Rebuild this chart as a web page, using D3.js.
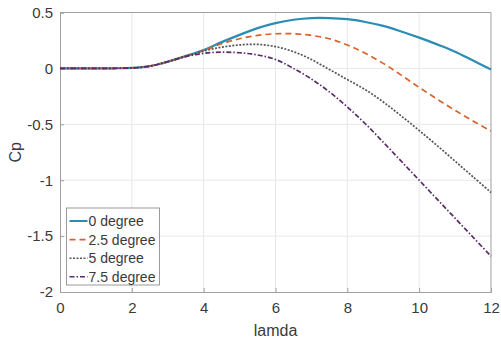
<!DOCTYPE html>
<html>
<head>
<meta charset="utf-8">
<script src="https://cdn.jsdelivr.net/npm/d3@7"></script>
<style>
  body { margin: 0; background: #fff; }
  svg { display: block; font-family: "Liberation Sans", Arial, sans-serif; }
</style>
</head>
<body>
<script>
const lamda = [0, 0.5, 1, 1.5, 2, 2.5, 3, 3.5, 4, 4.5, 5, 5.5, 6, 6.5, 7, 7.5, 8, 8.5, 9, 9.5, 10, 10.5, 11, 11.5, 12];

const cp0 = [0, 0, 0, 0.001, 0.004, 0.02, 0.06, 0.11, 0.165, 0.235, 0.30, 0.36, 0.405, 0.435, 0.45, 0.45, 0.44, 0.415, 0.38, 0.33, 0.275, 0.215, 0.15, 0.07, -0.01];
const cp25 = [0, 0, 0, 0.001, 0.004, 0.02, 0.06, 0.11, 0.16, 0.22, 0.265, 0.295, 0.31, 0.31, 0.295, 0.265, 0.21, 0.135, 0.045, -0.06, -0.17, -0.275, -0.375, -0.47, -0.56];
const cp5 = [0, 0, 0, 0.001, 0.004, 0.02, 0.06, 0.11, 0.155, 0.19, 0.21, 0.215, 0.195, 0.15, 0.08, -0.01, -0.1, -0.19, -0.30, -0.425, -0.555, -0.69, -0.83, -0.97, -1.11];
const cp75 = [0, 0, 0, 0.001, 0.004, 0.02, 0.06, 0.105, 0.135, 0.145, 0.14, 0.12, 0.08, 0.0, -0.095, -0.21, -0.345, -0.495, -0.66, -0.83, -1.0, -1.17, -1.34, -1.51, -1.68];

const seriesNames = ["0 degree", "2.5 degree", "5 degree", "7.5 degree"];
const seriesColors = ["#2b8cb4", "#d9622b", "#555555", "#5a2a6a"];
const seriesDash = [null, "6,4", "2,1.5", "5,2,1.5,2"];
const xTicks = [0, 2, 4, 6, 8, 10, 12];
const yTicks = [-2, -1.5, -1, -0.5, 0, 0.5];

const W = 501, H = 342;
const m = { left: 60, right: 10, top: 12.5, bottom: 50 };

const svg = d3.select("body").append("svg")
  .attr("width", W)
  .attr("height", H);

const x = d3.scaleLinear().domain([0, 12]).range([m.left, W - m.right]);
const y = d3.scaleLinear().domain([-2, 0.5]).range([H - m.bottom, m.top]);

// grid
svg.append("g")
  .selectAll("line.vx")
  .data(xTicks.slice(1, -1))
  .enter().append("line")
  .attr("x1", d => x(d)).attr("x2", d => x(d))
  .attr("y1", y(-2)).attr("y2", y(0.5))
  .attr("stroke", "#e8e8e8");
svg.append("g")
  .selectAll("line.hy")
  .data(yTicks.slice(1, -1))
  .enter().append("line")
  .attr("x1", x(0)).attr("x2", x(12))
  .attr("y1", d => y(d)).attr("y2", d => y(d))
  .attr("stroke", "#e8e8e8");

// axes (ticks point inward, matlab style)
const xAxis = svg.append("g")
  .attr("transform", `translate(0,${y(-2)})`)
  .call(d3.axisBottom(x).tickValues(xTicks).tickSize(-4).tickPadding(10).tickFormat(d3.format("")));
const yAxis = svg.append("g")
  .attr("transform", `translate(${x(0)},0)`)
  .call(d3.axisLeft(y).tickValues(yTicks).tickSize(-4).tickPadding(7).tickFormat(d => d));

[xAxis, yAxis].forEach(a => {
  a.select(".domain").attr("stroke", "#a0a0a0");
  a.selectAll(".tick line").attr("stroke", "#a0a0a0");
  a.selectAll(".tick text")
    .attr("fill", "#3a3a3a")
    .style("font-size", "15px")
    .style("font-family", "Liberation Sans, Arial, sans-serif");
});

// box top and right
svg.append("line")
  .attr("x1", x(0)).attr("x2", x(12))
  .attr("y1", y(0.5)).attr("y2", y(0.5))
  .attr("stroke", "#a0a0a0");
svg.append("line")
  .attr("x1", x(12)).attr("x2", x(12))
  .attr("y1", y(0.5)).attr("y2", y(-2))
  .attr("stroke", "#a0a0a0");

// curves
const allSeries = [cp0, cp25, cp5, cp75];
const line = d3.line()
  .x((d, i) => x(lamda[i]))
  .y(d => y(d))
  .curve(d3.curveCatmullRom);

allSeries.forEach((s, i) => {
  svg.append("path")
    .datum(s)
    .attr("d", line)
    .attr("fill", "none")
    .attr("stroke", seriesColors[i])
    .attr("stroke-width", i === 0 ? 2.2 : 1.7)
    .attr("stroke-dasharray", seriesDash[i]);
});

// labels
svg.append("text")
  .attr("x", (x(0) + x(12)) / 2)
  .attr("y", 336)
  .attr("text-anchor", "middle")
  .attr("fill", "#3a3a3a")
  .style("font-size", "16px")
  .text("lamda");

svg.append("text")
  .attr("transform", `translate(21,${(y(0.5) + y(-2)) / 2}) rotate(-90)`)
  .attr("text-anchor", "middle")
  .attr("fill", "#3a3a3a")
  .style("font-size", "16px")
  .text("Cp");

// legend
const legend = svg.append("g").attr("transform", "translate(66.5,208)");
legend.append("rect")
  .attr("width", 93)
  .attr("height", 77)
  .attr("fill", "#fff")
  .attr("stroke", "#9a9a9a");

const items = legend.selectAll("g.item")
  .data(seriesNames)
  .enter().append("g")
  .attr("transform", (d, i) => `translate(0,${13 + i * 18.6})`);

items.append("line")
  .attr("x1", 3).attr("x2", 21)
  .attr("y1", 0).attr("y2", 0)
  .attr("stroke", (d, i) => seriesColors[i])
  .attr("stroke-width", (d, i) => i === 0 ? 2 : 1.6)
  .attr("stroke-dasharray", (d, i) => seriesDash[i]);

items.append("text")
  .attr("x", 22)
  .attr("y", 5)
  .attr("fill", "#3a3a3a")
  .style("font-size", "14px")
  .text(d => d);
</script>
</body>
</html>
